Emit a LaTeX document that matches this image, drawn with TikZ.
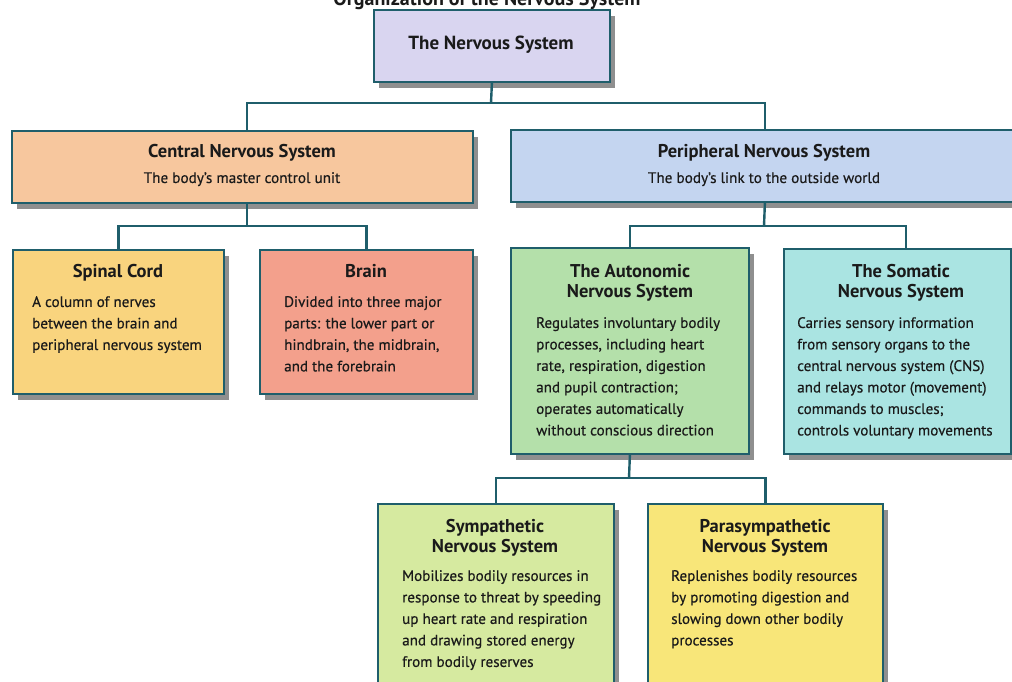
\documentclass[tikz,border=0pt]{standalone}
\usepackage{fontspec}
\setmainfont{PT Sans}
\newfontfamily\bodyfont{PT Sans}[FakeBold=0.4]
\usetikzlibrary{shadows}

\definecolor{edge}{HTML}{1F5E6B}
\definecolor{ink}{HTML}{1A1A1A}
\definecolor{cTop}{HTML}{D9D5F0}
\definecolor{cCns}{HTML}{F7C79E}
\definecolor{cPns}{HTML}{C4D5F0}
\definecolor{cSpinal}{HTML}{F9D47E}
\definecolor{cBrain}{HTML}{F3A08C}
\definecolor{cAuto}{HTML}{B4E0AA}
\definecolor{cSoma}{HTML}{AAE4E2}
\definecolor{cSym}{HTML}{D6EAA0}
\definecolor{cPara}{HTML}{F8E679}

\begin{document}
\begin{tikzpicture}[x=1pt,y=-1pt,
  panel/.style={draw=edge, line width=1.8pt, inner sep=0pt, anchor=north west,
    drop shadow={shadow xshift=5pt, shadow yshift=-6pt, fill=black!80, opacity=.55}},
  head/.style={font=\bfseries\fontsize{18.5}{20}\selectfont, align=center,
    anchor=north, inner sep=0pt, text=ink},
  sub/.style={font=\bodyfont\fontsize{15.2}{17}\selectfont, anchor=north, inner sep=0pt, text=ink},
  body/.style={font=\bodyfont\fontsize{15.1}{21.5}\selectfont, align=left,
    anchor=north west, inner sep=0pt, text=ink},
  link/.style={draw=edge, line width=2.4pt}]
\useasboundingbox (0,0) rectangle (1012,681);
\clip (0,0) rectangle (1012,681);
\fill[white] (0,0) rectangle (1012,681);

% title, running off the top edge
\node[font=\bfseries\fontsize{20}{22}\selectfont, anchor=base, inner sep=0pt, text=ink]
  (title) at (487,5) {Organization of the Nervous System};

% boxes
\node[panel, fill=cTop, minimum width=236pt, minimum height=72pt] (top) at (373,9) {};
\node[panel, fill=cCns, minimum width=461pt, minimum height=72pt] (cns) at (11,130) {};
\node[panel, fill=cPns, minimum width=508pt, minimum height=72pt] (pns) at (510,129) {};
\node[panel, fill=cSpinal, minimum width=211pt, minimum height=144pt] (spinal) at (12,249) {};
\node[panel, fill=cBrain, minimum width=213pt, minimum height=144pt] (brain) at (259,249) {};
\node[panel, fill=cAuto, minimum width=238pt, minimum height=206pt] (auto) at (510,247) {};
\node[panel, fill=cSoma, minimum width=227pt, minimum height=205pt] (soma) at (783,248) {};
\node[panel, fill=cSym, minimum width=236pt, minimum height=200pt] (sym) at (377,503) {};
\node[panel, fill=cPara, minimum width=235pt, minimum height=200pt] (para) at (647,503) {};

% texts
\node[head, font=\bfseries\fontsize{19}{21}\selectfont] (topT) at (491,36) {The Nervous System};
\node[head] (cnsT) at (242,144) {Central Nervous System};
\node[sub]  (cnsS) at (242,172) {The body’s master control unit};
\node[head] (pnsT) at (764,144) {Peripheral Nervous System};
\node[sub]  (pnsS) at (764,172) {The body’s link to the outside world};

\node[head] (spinalT) at (118,264) {Spinal Cord};
\node[body] (spinalB) at (32,296) {A column of nerves\\between the brain and\\peripheral nervous system};
\node[head] (brainT) at (366,264) {Brain};
\node[body] (brainB) at (284,296) {Divided into three major\\parts: the lower part or\\hindbrain, the midbrain,\\and the forebrain};

\node[head] (autoT) at (630,264) {The Autonomic\\Nervous System};
\node[body] (autoB) at (536,317) {Regulates involuntary bodily\\processes, including heart\\rate, respiration, digestion\\and pupil contraction;\\operates automatically\\without conscious direction};
\node[head] (somaT) at (901,264) {The Somatic\\Nervous System};
\node[body] (somaB) at (797,317) {Carries sensory information\\from sensory organs to the\\central nervous system (CNS)\\and relays motor (movement)\\commands to muscles;\\controls voluntary movements};

\node[head] (symT) at (495,519) {Sympathetic\\Nervous System};
\node[body] (symB) at (402,570) {Mobilizes bodily resources in\\response to threat by speeding\\up heart rate and respiration\\and drawing stored energy\\from bodily reserves};
\node[head] (paraT) at (765,519) {Parasympathetic\\Nervous System};
\node[body] (paraB) at (671,570) {Replenishes bodily resources\\by promoting digestion and\\slowing down other bodily\\processes};

% connectors
\coordinate (bus1) at (491,103);
\coordinate (cnsIn) at (247,130);
\coordinate (cnsOut) at (247,202);
\coordinate (bus2) at (247,226);
\coordinate (bus3) at (764,226);
\coordinate (somaIn) at (906,248);
\coordinate (bus4) at (629,478);

\draw[link] (top.south) -- (bus1);
\draw[link] (cnsIn) |- (bus1) -| (pns.north);
\draw[link] (cnsOut) -- (bus2);
\draw[link] (spinal.north) |- (bus2) -| (brain.north);
\draw[link] (pns.south) -- (bus3);
\draw[link] (auto.north) |- (bus3) -| (somaIn);
\draw[link] (auto.south) -- (bus4);
\draw[link] (sym.north) |- (bus4) -| (para.north);
\end{tikzpicture}
\end{document}
